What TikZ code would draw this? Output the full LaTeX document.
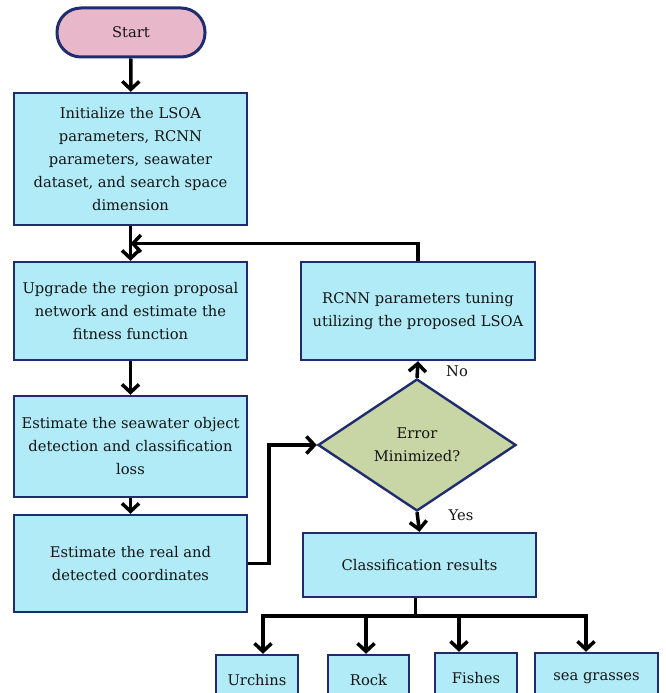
\documentclass[tikz,border=0pt]{standalone}
\usepackage{fontspec}
\setmainfont{DejaVu Serif}
\usepackage{xcolor}
\usetikzlibrary{arrows.meta,positioning,shapes.geometric}
\definecolor{boxfill}{HTML}{B0EBF7}
\definecolor{navy}{HTML}{1F2D6E}
\definecolor{startfill}{HTML}{E8B8CA}
\definecolor{decfill}{HTML}{C8D6A6}

\begin{document}
\begin{tikzpicture}[
    x=1pt, y=-1pt,
    every node/.style={font=\fontsize{14.7}{23}\selectfont, text=black!92},
    box/.style={draw=navy, line width=2.4pt, fill=boxfill, align=center, inner sep=0pt, minimum width=233pt},
    startbox/.style={draw=navy, line width=3pt, fill=startfill, rounded corners=24pt, inner sep=0pt, minimum width=148pt, minimum height=49pt},
    decision/.style={diamond, draw=navy, line width=2.4pt, fill=decfill, align=center, inner sep=0pt, aspect=1.5, minimum width=198pt, minimum height=132pt},
    leaf/.style={draw=navy, line width=2.4pt, fill=boxfill, align=center, inner sep=0pt, minimum height=50pt},
    arrow/.style={-{Straight Barb[length=8pt, width=17pt, line width=3.5pt]}, line width=3.5pt},
    line/.style={line width=3.5pt}
  ]
    \useasboundingbox (0,0) rectangle (665,693);

    \node[startbox] (start) at (131,32.5) {Start};
    \node[box, minimum height=132pt] (init) at (130.5,159) {Initialize the LSOA\\parameters, RCNN\\parameters, seawater\\dataset, and search space\\dimension};
    \node[box, minimum height=98pt] (upg) at (130.5,311) {Upgrade the region proposal\\network and estimate the\\fitness function};
    \node[box, minimum height=101pt] (est) at (130.5,446.5) {Estimate the seawater object\\detection and classification\\loss};
    \node[box, minimum height=97pt] (real) at (130.5,563.5) {Estimate the real and\\detected coordinates};
    \node[box, minimum width=234pt, minimum height=98pt] (tune) at (418,311) {RCNN parameters tuning\\utilizing the proposed LSOA};
    \node[decision] (dec) at (417,445) {Error\\Minimized?};
    \node[box, minimum height=64pt] (cls) at (419.5,565) {Classification results};

    \node[leaf, minimum width=82pt] (urch) at (257,680) {Urchins};
    \node[leaf, minimum width=81pt] (rock) at (368.5,680) {Rock};
    \node[leaf, minimum width=82pt] (fish) at (476,678) {Fishes};
    \node[leaf, minimum width=123pt] (grass) at (596.5,678) {sea grasses};

    \node (no) at (457,371) {No};
    \node (yes) at (461,515) {Yes};

    \path (init.south) -- (upg.north) coordinate[midway] (fb);
    \path (cls.south) -- ++(-4,18) coordinate (br);

    \draw[arrow] (start) -- (init);
    \draw[arrow] (init) -- (upg);
    \draw[arrow] (tune.north) |- (fb);
    \draw[arrow] (upg) -- (est);
    \draw[arrow] (est) -- (real);
    \draw[arrow] (real.east) -- ++(21,0) |- (dec.west);
    \draw[arrow] (dec.north) -- (tune.south);
    \draw[arrow] (dec.south) -- (cls.north);

    % tree of classes
    \draw[line] (cls.south -| br) -- (br);
    \draw[arrow] (br) -| ([xshift=6pt]urch.north);
    \draw[arrow] (br) -| ([xshift=-2.5pt]rock.north);
    \draw[arrow] (br) -| ([xshift=-17pt]fish.north);
    \draw[arrow] (br) -| ([xshift=-10.5pt]grass.north);
\end{tikzpicture}
\end{document}
